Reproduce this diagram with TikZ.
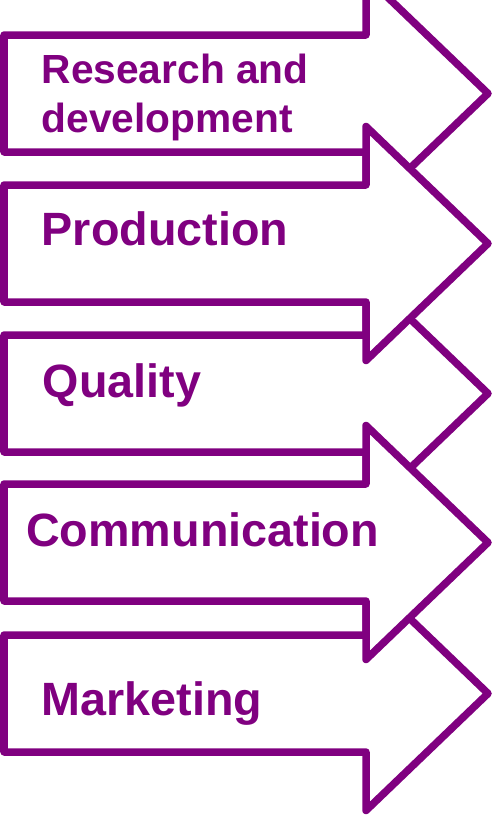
\documentclass[tikz,border=0pt]{standalone}
\usepackage{fontspec}
\setmainfont{Liberation Sans}
\usetikzlibrary{positioning}
\definecolor{stpurple}{HTML}{800080}

\begin{document}
\begin{tikzpicture}[x=1pt,y=-1pt,
  blk/.style={draw=stpurple,fill=white,line width=7.5pt,line join=round},
  lbl/.style={text=stpurple,anchor=base west,inner sep=0pt,align=left,
              font=\bfseries\fontsize{46.7}{50}\selectfont}
]
\useasboundingbox (0,0) rectangle (495,817);
\fill[white] (0,0) rectangle (495,817);
\clip (0,0) rectangle (495,817);

% ---- Block arrows (1,3,5 underneath, 2,4 on top) -----------
\foreach \c in {93.5,393.5,693.5,243.5,542.5}
  \draw[blk] (4,\c-58.5) -- (366,\c-58.5) -- (366,\c-117) -- (488,\c)
    -- (366,\c+117) -- (366,\c+58.5) -- (4,\c+58.5) -- cycle;

% ---- Stage labels ------------------------------------------
\node[lbl,font=\bfseries\fontsize{40.7}{49}\selectfont]
  (rnd) at (41.5,132) {Research and\\development};
\node[lbl] (prd) at (41.5,245) {Production};
\node[lbl] (qlt) at (42.5,397) {Quality};
\node[lbl] (com) at (26,546) {Communication};
\node[lbl] (mkt) at (41.5,715) {Marketing};

\end{tikzpicture}
\end{document}
